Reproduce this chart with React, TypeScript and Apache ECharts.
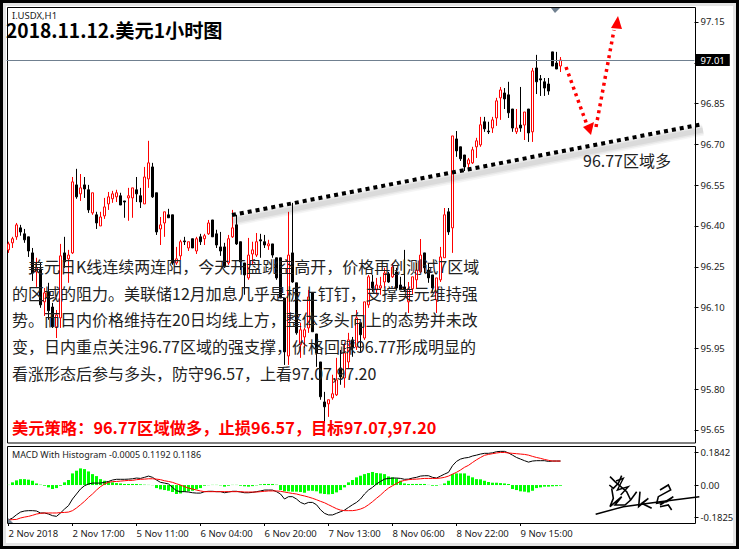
import React, { useEffect, useRef } from "react";
import * as echarts from "echarts";

const directions = "RRRBBBBRBRBBRRBRRBRBBRBRRRRRBBRRBBRRBBRRBBRRBRBRBRRBBBBRRBBBRRRBBRBBBBRBBRRRBBBBRRRBRRBRBRRBRRRBRBBBRRRRBBBRRRBRBBBRRRRBBRRRBBBRBRBRBBBBBBR";

const bodyTop = [
  96.334,96.353,96.404,96.393,96.371,96.360,96.301,96.246,96.242,96.154,
  96.158,96.102,96.073,96.290,96.301,96.293,96.562,96.551,96.540,96.551,
  96.533,96.522,96.441,96.433,96.470,96.507,96.518,96.522,96.511,96.492,
  96.511,96.540,96.533,96.511,96.580,96.632,96.617,96.522,96.404,96.452,
  96.441,96.441,96.279,96.342,96.345,96.342,96.353,96.353,96.360,96.364,
  96.411,96.422,96.371,96.323,96.323,96.353,96.393,96.404,96.342,96.264,
  96.293,96.312,96.342,96.349,96.342,96.334,96.334,96.283,96.283,96.135,
  96.293,96.301,96.191,96.018,96.018,96.139,96.154,96.003,95.900,95.753,
  95.761,95.783,95.834,95.878,95.933,95.981,95.981,96.062,96.044,96.121,
  96.213,96.194,96.183,96.180,96.227,96.224,96.249,96.231,96.183,96.176,
  96.169,96.213,96.238,96.293,96.301,96.238,96.220,96.209,96.286,96.441,
  96.452,96.731,96.720,96.691,96.661,96.643,96.680,96.713,96.772,96.783,
  96.749,96.790,96.860,96.900,96.889,96.882,96.830,96.760,96.771,96.819,
  96.830,96.970,96.981,96.941,96.930,96.922,97.040,96.999,97.010,
];

const bodyBottom = [
  96.312,96.338,96.360,96.378,96.349,96.308,96.227,96.231,96.110,96.121,
  96.088,96.029,96.029,96.062,96.268,96.279,96.301,96.507,96.518,96.536,
  96.459,96.448,96.411,96.400,96.437,96.481,96.500,96.507,96.477,96.488,
  96.503,96.503,96.518,96.488,96.481,96.573,96.507,96.378,96.389,96.411,
  96.430,96.264,96.264,96.290,96.342,96.319,96.319,96.308,96.342,96.353,
  96.371,96.360,96.330,96.308,96.249,96.264,96.360,96.334,96.268,96.220,
  96.209,96.297,96.293,96.345,96.330,96.327,96.293,96.209,96.135,95.937,
  95.922,96.194,96.007,95.963,95.992,96.025,96.011,95.933,95.772,95.735,
  95.746,95.768,95.779,95.845,95.841,95.900,95.952,95.955,96.000,95.988,
  96.110,96.172,96.165,96.172,96.194,96.194,96.213,96.172,96.165,96.165,
  96.121,96.169,96.202,96.231,96.246,96.209,96.172,96.128,96.202,96.283,
  96.378,96.393,96.676,96.647,96.617,96.628,96.632,96.691,96.698,96.757,
  96.746,96.760,96.797,96.871,96.867,96.816,96.760,96.746,96.760,96.771,
  96.742,96.746,96.930,96.937,96.907,96.896,96.988,96.977,96.988,
];

const highs = [
  96.342,96.360,96.411,96.404,96.389,96.360,96.319,96.283,96.264,96.172,
  96.191,96.117,96.091,96.334,96.360,96.312,96.580,96.610,96.591,96.580,
  96.551,96.522,96.452,96.452,96.503,96.525,96.529,96.533,96.522,96.492,
  96.540,96.540,96.580,96.540,96.617,96.713,96.632,96.522,96.433,96.452,
  96.463,96.441,96.323,96.349,96.360,96.342,96.353,96.360,96.371,96.371,
  96.422,96.422,96.386,96.378,96.338,96.367,96.459,96.441,96.342,96.264,
  96.356,96.342,96.374,96.371,96.367,96.349,96.334,96.283,96.283,96.135,
  96.452,96.485,96.191,96.044,96.025,96.165,96.154,96.003,95.900,95.790,
  95.761,95.853,95.915,95.944,95.970,96.007,95.992,96.091,96.044,96.121,
  96.220,96.220,96.209,96.213,96.246,96.231,96.264,96.246,96.213,96.312,
  96.194,96.213,96.264,96.352,96.301,96.264,96.220,96.209,96.323,96.466,
  96.466,96.731,96.749,96.691,96.661,96.650,96.691,96.724,96.801,96.801,
  96.783,96.801,96.871,96.911,96.907,96.930,96.830,96.830,96.911,96.819,
  96.830,96.981,97.029,96.955,96.944,96.944,97.040,97.040,97.021,
];

const lows = [
  96.301,96.319,96.349,96.364,96.338,96.286,96.198,96.176,96.099,96.069,
  96.055,96.025,95.988,96.025,96.246,96.191,96.297,96.500,96.492,96.503,
  96.448,96.441,96.389,96.400,96.426,96.459,96.485,96.488,96.477,96.430,
  96.419,96.430,96.488,96.466,96.481,96.540,96.503,96.367,96.330,96.360,
  96.430,96.257,96.257,96.275,96.330,96.308,96.319,96.297,96.330,96.330,
  96.367,96.360,96.319,96.290,96.246,96.257,96.356,96.330,96.238,96.147,
  96.202,96.257,96.286,96.283,96.319,96.312,96.283,96.202,96.135,95.889,
  95.889,96.191,96.000,95.915,95.952,96.007,96.011,95.882,95.761,95.676,
  95.698,95.761,95.775,95.816,95.805,95.878,95.919,95.944,95.937,95.981,
  96.099,96.158,96.147,96.147,96.172,96.191,96.209,96.165,96.165,96.158,
  96.080,96.147,96.172,96.227,96.227,96.191,96.158,96.080,96.194,96.283,
  96.367,96.301,96.654,96.639,96.602,96.613,96.628,96.650,96.691,96.746,
  96.738,96.742,96.768,96.790,96.830,96.797,96.746,96.738,96.746,96.716,
  96.709,96.709,96.885,96.878,96.878,96.882,96.988,96.977,96.966,
];

const histogram = [
  0.001,0.015,0.026,0.033,0.033,0.030,0.024,0.009,0.002,-0.004,
  -0.013,-0.022,-0.017,-0.004,0.015,0.028,0.065,0.080,0.093,0.089,
  0.076,0.061,0.050,0.033,0.024,0.020,0.015,0.011,0.009,0.006,
  0.006,0.006,0.006,0.004,0.002,0.001,-0.001,-0.017,-0.024,-0.028,
  -0.032,-0.039,-0.050,-0.047,-0.039,-0.035,-0.032,-0.024,-0.017,-0.004,
  -0.001,0.001,0.001,-0.002,-0.009,-0.004,0.001,0.001,-0.004,-0.007,
  -0.009,-0.006,-0.002,0.004,0.006,0.006,0.006,0.002,-0.028,-0.035,
  -0.035,-0.037,-0.037,-0.039,-0.043,-0.032,-0.032,-0.035,-0.047,-0.050,
  -0.052,-0.050,-0.041,-0.028,-0.013,0.015,0.028,0.043,0.052,0.061,
  0.067,0.073,0.067,0.065,0.061,0.048,0.043,0.037,0.024,0.009,
  0.006,0.006,0.006,0.006,0.006,0.001,-0.004,-0.004,0.001,0.009,
  0.024,0.061,0.065,0.065,0.065,0.052,0.043,0.033,0.032,0.024,
  0.017,0.013,0.013,0.011,0.009,0.006,-0.022,-0.028,-0.035,-0.037,
  -0.041,-0.032,-0.017,-0.013,-0.009,-0.009,-0.007,-0.006,-0.004,
];

const macdLine = [
  -0.195,-0.184,-0.166,-0.151,-0.145,-0.143,-0.143,-0.145,-0.156,-0.156,
  -0.162,-0.171,-0.175,-0.156,-0.134,-0.115,-0.078,-0.050,-0.022,-0.004,
  0.006,0.011,0.011,0.011,0.015,0.020,0.028,0.032,0.032,0.032,
  0.033,0.035,0.039,0.037,0.043,0.050,0.043,0.028,0.015,0.011,
  0.006,-0.013,-0.032,-0.037,-0.037,-0.039,-0.043,-0.045,-0.045,-0.037,
  -0.035,-0.035,-0.037,-0.037,-0.043,-0.039,-0.035,-0.035,-0.039,-0.043,
  -0.043,-0.041,-0.037,-0.033,-0.028,-0.028,-0.028,-0.037,-0.050,-0.078,
  -0.065,-0.065,-0.078,-0.097,-0.106,-0.097,-0.097,-0.110,-0.138,-0.158,
  -0.167,-0.167,-0.158,-0.149,-0.140,-0.125,-0.110,-0.097,-0.078,-0.050,
  -0.028,-0.013,0.006,0.020,0.033,0.037,0.039,0.039,0.037,0.032,
  0.033,0.039,0.043,0.050,0.052,0.052,0.043,0.039,0.050,0.061,
  0.071,0.108,0.132,0.145,0.151,0.154,0.162,0.167,0.173,0.177,
  0.177,0.180,0.186,0.188,0.188,0.179,0.167,0.154,0.145,0.136,
  0.128,0.134,0.136,0.136,0.136,0.132,0.134,0.134,0.134,
];

const signalLine = [
  -0.195,-0.193,-0.192,-0.184,-0.179,-0.175,-0.169,-0.162,-0.158,-0.156,
  -0.156,-0.156,-0.156,-0.154,-0.153,-0.151,-0.143,-0.128,-0.110,-0.091,
  -0.069,-0.050,-0.028,-0.009,0.006,0.015,0.019,0.020,0.022,0.024,
  0.026,0.026,0.030,0.032,0.033,0.035,0.035,0.033,0.030,0.024,
  0.020,0.015,0.007,0.000,-0.009,-0.017,-0.022,-0.028,-0.033,-0.037,
  -0.037,-0.037,-0.037,-0.037,-0.037,-0.037,-0.037,-0.037,-0.037,-0.039,
  -0.039,-0.039,-0.039,-0.037,-0.035,-0.033,-0.033,-0.033,-0.035,-0.039,
  -0.043,-0.047,-0.050,-0.056,-0.061,-0.067,-0.074,-0.082,-0.091,-0.099,
  -0.110,-0.121,-0.132,-0.140,-0.143,-0.143,-0.143,-0.140,-0.134,-0.125,
  -0.110,-0.093,-0.074,-0.056,-0.035,-0.017,-0.004,0.009,0.020,0.026,
  0.030,0.032,0.033,0.035,0.037,0.037,0.037,0.037,0.039,0.043,
  0.050,0.061,0.071,0.084,0.099,0.110,0.126,0.141,0.154,0.166,
  0.171,0.175,0.179,0.182,0.182,0.179,0.177,0.175,0.173,0.171,
  0.167,0.160,0.154,0.149,0.143,0.138,0.134,0.134,0.134,
];

const timeLabels = [
  "2 Nov 2018","2 Nov 17:00","5 Nov 11:00","6 Nov 04:00","6 Nov 20:00",
  "7 Nov 13:00","8 Nov 06:00","8 Nov 22:00","9 Nov 15:00",
];
const barsPerLabel = 16;
const slotCount = 172;
const priceTicks = [97.15,97.0,96.85,96.7,96.55,96.4,96.25,96.1,95.95,95.8,95.65];
const macdTicks = [0.1842,0,-0.1825];
const lastPrice = 97.01;

const noteLines = [
  "美元日K线连续两连阳，今天开盘跳空高开，价格再创测试7区域",
  "的区域的阻力。美联储12月加息几乎是板上钉钉，支撑美元维持强",
  "势。而日内价格维持在20日均线上方，整体多头向上的态势并未改",
  "变，日内重点关注96.77区域的强支撑，价格回踩96.77形成明显的",
  "看涨形态后参与多头，防守96.57，上看97.07,97.20",
];
const strategyLine = "美元策略：96.77区域做多，止损96.57，目标97.07,97.20";
const chartTitle = "2018.11.12.美元1小时图";
const symbolLabel = "I.USDX,H1";
const macdLabel = "MACD With Histogram -0.0005 0.1192 0.1186";
const zoneLabel = "96.77区域多";

const CJK = '"Noto Sans CJK SC"';
const UI = '"Noto Sans"';

function buildOption() {
  const categories = Array.from({ length: slotCount }, (_, i) =>
    i % barsPerLabel === 0 && timeLabels[i / barsPerLabel] ? timeLabels[i / barsPerLabel] : `h${i}`
  );
  const tickIdx = timeLabels.map((_, i) => i * barsPerLabel);
  const candles = bodyTop.map((t, i) =>
    directions[i] === "R"
      ? [bodyBottom[i], t, lows[i], highs[i]]
      : [t, bodyBottom[i], lows[i], highs[i]]
  );

  const text = (x: number, y: number, s: string, font: string, fill: string) => ({
    type: "text",
    x,
    y,
    z: 100,
    style: { text: s, font, fill, verticalAlign: "middle", align: "left" },
  });
  const stroke = (points: number[][], lineWidth = 1, color = "#000", extra: any = {}, z = 90) => ({
    type: "polyline",
    z,
    shape: { points },
    style: { stroke: color, lineWidth, fill: "none", ...extra },
  });
  const tri = (points: number[][], fill: string) => ({
    type: "polygon",
    z: 95,
    shape: { points },
    style: { fill },
  });
  const frame = (x: number, y: number, width: number, height: number) => ({
    type: "rect",
    z: 1,
    shape: { x, y, width, height },
    style: { fill: "none", stroke: "#000", lineWidth: 1 },
  });

  const sig = (pts: number[][]) => pts.map(([X, Y]) => [560 + X / 3, 455 + Y / 3]);
  const trend = [[232, 215], [703, 124]];
  const trendShadow = trend.map(([x, y]) => [x, y + 6]);

  const graphics: any[] = [
    frame(7.5, 7.5, 688, 435.5),
    frame(7.5, 446.5, 688, 77),
    text(12, 15, symbolLabel, `9.5px ${UI}`, "#222"),
    text(6, 30, chartTitle, `bold 19.2px ${CJK}`, "#000"),
    text(12, 454, macdLabel, `9px ${UI}`, "#222"),
    text(28, 266, noteLines[0], `16px ${CJK}`, "#222"),
    text(12, 293, noteLines[1], `16px ${CJK}`, "#222"),
    text(12, 319, noteLines[2], `16px ${CJK}`, "#222"),
    text(12, 346, noteLines[3], `16px ${CJK}`, "#222"),
    text(12, 373, noteLines[4], `16px ${CJK}`, "#222"),
    text(12, 427, strategyLine, `bold 16.3px ${CJK}`, "#ff0000"),
    text(583, 160, zoneLabel, `16px ${CJK}`, "#222"),
    stroke(trendShadow, 11, "rgba(0,0,0,0.04)", {}, 40),
    stroke(trendShadow, 8, "rgba(0,0,0,0.05)", {}, 41),
    stroke(trendShadow, 5, "rgba(0,0,0,0.06)", {}, 42),
    stroke(trend, 4, "#000", { lineDash: [4, 4] }),
    stroke([[566, 67], [587, 125]], 3.5, "#ff0000", { lineDash: [3, 4] }),
    tri([[591, 135], [583, 127], [594, 122]], "#ff0000"),
    stroke([[596, 127], [614, 30]], 3.5, "#ff0000", { lineDash: [3, 4] }),
    tri([[618, 16], [611, 28], [622, 29]], "#ff0000"),
    tri([[551, 8], [560, 8], [555, 13]], "#708090"),
    tri([[8, 518], [8, 523], [13, 523]], "#708090"),
    stroke(sig([[107, 178], [190, 155], [300, 140], [418, 125]]), 1.5),
    stroke(sig([[150, 65], [165, 80], [200, 110], [212, 135]]), 1.6),
    stroke(sig([[185, 62], [175, 85], [160, 100], [148, 90]]), 1.6),
    stroke(sig([[168, 78], [190, 70], [172, 105], [205, 95], [182, 120]]), 1.4),
    stroke(sig([[155, 100], [160, 130], [150, 155], [185, 125], [165, 150], [195, 150], [212, 135], [230, 110]]), 1.6),
    stroke(sig([[240, 110], [236, 155], [265, 130], [245, 145], [275, 160]]), 1.6),
    stroke(sig([[300, 105], [325, 90], [332, 105], [295, 125], [290, 145], [320, 140], [340, 125], [300, 150]]), 1.6),
    stroke(sig([[300, 155], [325, 150], [335, 165]]), 1.6),
  ];

  const axisText = { color: "#222", fontFamily: "Noto Sans", fontSize: 9.5 };

  return {
    animation: false,
    backgroundColor: "transparent",
    grid: [
      { left: 6.5, top: 7, width: 688, height: 436, show: false },
      { left: 6.5, top: 446, width: 688, height: 77, show: false },
    ],
    xAxis: [
      {
        type: "category",
        data: categories,
        gridIndex: 0,
        boundaryGap: true,
        axisLine: { show: false },
        axisTick: { show: false },
        axisLabel: { show: false },
        splitLine: { show: false },
      },
      {
        type: "category",
        data: categories,
        gridIndex: 1,
        boundaryGap: true,
        axisLine: { show: false, onZero: false },
        axisTick: { show: true, length: 3, alignWithLabel: true, customValues: tickIdx, lineStyle: { color: "#000" } },
        axisLabel: {
          customValues: tickIdx,
          align: "left",
          margin: 5,
          hideOverlap: false,
          formatter: (v: string) => v,
          ...axisText,
        },
        splitLine: { show: false },
      },
    ],
    yAxis: [
      {
        type: "value",
        gridIndex: 0,
        position: "right",
        min: 95.602,
        max: 97.205,
        axisLine: { show: false },
        axisTick: { show: true, length: 4, customValues: priceTicks, lineStyle: { color: "#000" } },
        axisLabel: {
          customValues: priceTicks,
          margin: 6,
          formatter: (v: number) => v.toFixed(2),
          ...axisText,
        },
        splitLine: { show: false },
      },
      {
        type: "value",
        gridIndex: 1,
        position: "right",
        min: -0.212,
        max: 0.218,
        axisLine: { show: false },
        axisTick: { show: true, length: 4, customValues: macdTicks, lineStyle: { color: "#000" } },
        axisLabel: {
          customValues: macdTicks,
          margin: 6,
          formatter: (v: number) => (v === 0 ? "0.00" : String(v)),
          ...axisText,
        },
        splitLine: { show: false },
      },
    ],
    series: [
      {
        type: "candlestick",
        xAxisIndex: 0,
        yAxisIndex: 0,
        data: candles,
        barWidth: 3,
        itemStyle: { color: "#fff", color0: "#000", borderColor: "#ff0000", borderColor0: "#000", borderWidth: 1 },
        markLine: {
          silent: true,
          symbol: "none",
          animation: false,
          data: [{ yAxis: lastPrice }],
          lineStyle: { color: "#708090", width: 1, type: "solid" },
          label: {
            position: "end",
            distance: 1,
            formatter: lastPrice.toFixed(2),
            color: "#fff",
            backgroundColor: "#000",
            padding: [1, 5, 1, 5],
            fontFamily: "Noto Sans",
            fontSize: 9.5,
          },
        },
      },
      {
        type: "bar",
        xAxisIndex: 1,
        yAxisIndex: 1,
        data: histogram,
        barWidth: 3,
        itemStyle: { color: "#00ff00" },
      },
      {
        type: "line",
        xAxisIndex: 1,
        yAxisIndex: 1,
        data: macdLine,
        symbol: "none",
        lineStyle: { color: "#000", width: 1 },
      },
      {
        type: "line",
        xAxisIndex: 1,
        yAxisIndex: 1,
        data: signalLine,
        symbol: "none",
        lineStyle: { color: "#ff0000", width: 1 },
      },
    ],
    graphic: graphics,
  };
}

export default function App() {
  const ref = useRef<HTMLDivElement>(null);
  useEffect(() => {
    document.body.style.margin = "0";
    document.body.style.background = "#fff";
    const chart = echarts.init(ref.current!, undefined, { renderer: "svg", width: 739, height: 549 });
    chart.setOption(buildOption() as any);
    return () => chart.dispose();
  }, []);
  return (
    <div
      style={{
        position: "relative",
        width: 739,
        height: 549,
        background: "#fff",
        boxShadow: "inset 0 0 0 3px #000, inset 0 0 0 6px #e4e4e4",
      }}
    >
      <div ref={ref} style={{ position: "absolute", left: 0, top: 0, width: 739, height: 549 }} />
    </div>
  );
}
